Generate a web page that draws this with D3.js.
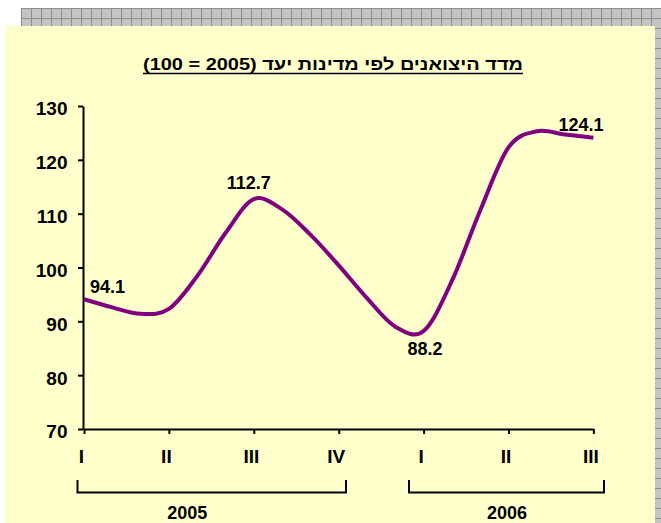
<!DOCTYPE html>
<html>
<head>
<meta charset="utf-8">
<script src="https://cdn.jsdelivr.net/npm/d3@7"></script>
<style>
  body { margin: 0; background: #fff; }
  svg { display: block; font-family: Arial, "Liberation Sans", "DejaVu Sans", sans-serif; }
</style>
</head>
<body>
<script>
// monthly export index, Jan 2005 .. Jul 2006 (2005 = 100)
const exportIndex = [94.1, 92.6, 91.4, 92.3, 98.4, 106.4, 112.7, 110.8, 106.1, 100.4,
                     94.3, 89.0, 88.2, 97.5, 110.6, 122.3, 125.3, 124.7, 124.1];
const quarterTicks = [0, 3, 6, 9, 12, 15, 18];
const quarterLabels = ["I", "II", "III", "IV", "I", "II", "III"];
const yTicks = [70, 80, 90, 100, 110, 120, 130];
const labeledPoints = [0, 6, 12, 18];
const years = ["2005", "2006"];
const yearFirst = [0, 12];
const yearLast = [9, 18];
const title = "מדד היצואנים לפי מדינות יעד (2005 = 100)";

// layout only
const labelShift = [[23.5, -6], [-5, -10], [1.5, 23.5], [-12.5, -6.3]];
const bracketPad = [[-6.5, 7.3], [-14.6, 10.6]];
const yearLabelAt = [3.65, 14.95];

const W = 661, H = 523;
const svg = d3.select("body").append("svg")
  .attr("width", W)
  .attr("height", H);

// hatched frame
const defs = svg.append("defs");
const pat = defs.append("pattern")
  .attr("id", "hatch")
  .attr("patternUnits", "userSpaceOnUse")
  .attr("width", 10).attr("height", 10)
  .attr("x", 1).attr("y", 8);
pat.append("rect").attr("width", 10).attr("height", 10).attr("fill", "#c4c4c4");
pat.append("path").attr("d", "M0,0.5H10M0.5,0V10").attr("stroke", "#8e8e8e").attr("stroke-width", 1);

svg.append("rect").attr("x", 21).attr("y", 8).attr("width", W - 21).attr("height", H - 8).attr("fill", "url(#hatch)");
svg.append("rect").attr("x", 5).attr("y", 26).attr("width", 650).attr("height", H - 26).attr("fill", "#ffffcc");

const x = d3.scaleLinear().domain([0, 18]).range([84, 593.4]);
const y = d3.scaleLinear().domain([70, 130]).range([429, 106]);

// title
const t = svg.append("text")
  .attr("x", 333)
  .attr("y", 69.5)
  .attr("direction", "rtl")
  .attr("text-anchor", "middle")
  .attr("font-size", 16.5)
  .attr("font-weight", "bold")
  .attr("fill", "#000")
  .attr("textLength", 380)
  .attr("lengthAdjust", "spacingAndGlyphs")
  .text(title);
svg.append("line")
  .attr("x1", 333 - 190).attr("x2", 333 + 190)
  .attr("y1", 73.5).attr("y2", 73.5)
  .attr("stroke", "#000").attr("stroke-width", 1.5);

// y axis
const yAxis = svg.append("g")
  .attr("transform", "translate(83,0)")
  .call(d3.axisLeft(y).tickValues(yTicks).tickSize(5).tickSizeOuter(0).tickPadding(10.5));
yAxis.selectAll("text")
  .attr("font-size", 19)
  .attr("font-weight", "bold")
  .attr("font-family", null)
  .attr("dy", "0.47em");

// x axis
const xAxis = svg.append("g")
  .attr("transform", "translate(0,429)")
  .call(d3.axisBottom(x).tickValues(quarterTicks).tickSize(5).tickSizeOuter(0).tickPadding(16)
    .tickFormat((d, i) => quarterLabels[i]));
xAxis.selectAll("text")
  .attr("font-size", 19)
  .attr("font-weight", "bold")
  .attr("font-family", null)
  .attr("dx", -3);

svg.selectAll(".domain, .tick line").attr("stroke", "#000").attr("stroke-width", 2);

// year brackets
years.forEach((yr, i) => {
  const x0 = x(yearFirst[i]) + bracketPad[i][0];
  const x1 = x(yearLast[i]) + bracketPad[i][1];
  svg.append("path")
    .attr("d", `M${x0},480V492.5H${x1}V480`)
    .attr("fill", "none")
    .attr("stroke", "#000")
    .attr("stroke-width", 2);
  svg.append("text")
    .attr("x", x(yearLabelAt[i]))
    .attr("y", 518.5)
    .attr("text-anchor", "middle")
    .attr("font-size", 18)
    .attr("font-weight", "bold")
    .text(yr);
});

// index line
const line = d3.line()
  .x((d, i) => x(i))
  .y(d => y(d))
  .curve(d3.curveCatmullRom.alpha(0));

svg.append("path")
  .datum(exportIndex)
  .attr("d", line)
  .attr("fill", "none")
  .attr("stroke", "#800080")
  .attr("stroke-width", 4)
  .attr("stroke-linejoin", "round");

// point labels
svg.selectAll(".val")
  .data(labeledPoints)
  .enter().append("text")
  .attr("class", "val")
  .attr("x", (d, i) => x(d) + labelShift[i][0])
  .attr("y", (d, i) => y(exportIndex[d]) + labelShift[i][1])
  .attr("text-anchor", "middle")
  .attr("font-size", 18)
  .attr("font-weight", "bold")
  .text(d => exportIndex[d].toFixed(1));
</script>
</body>
</html>
